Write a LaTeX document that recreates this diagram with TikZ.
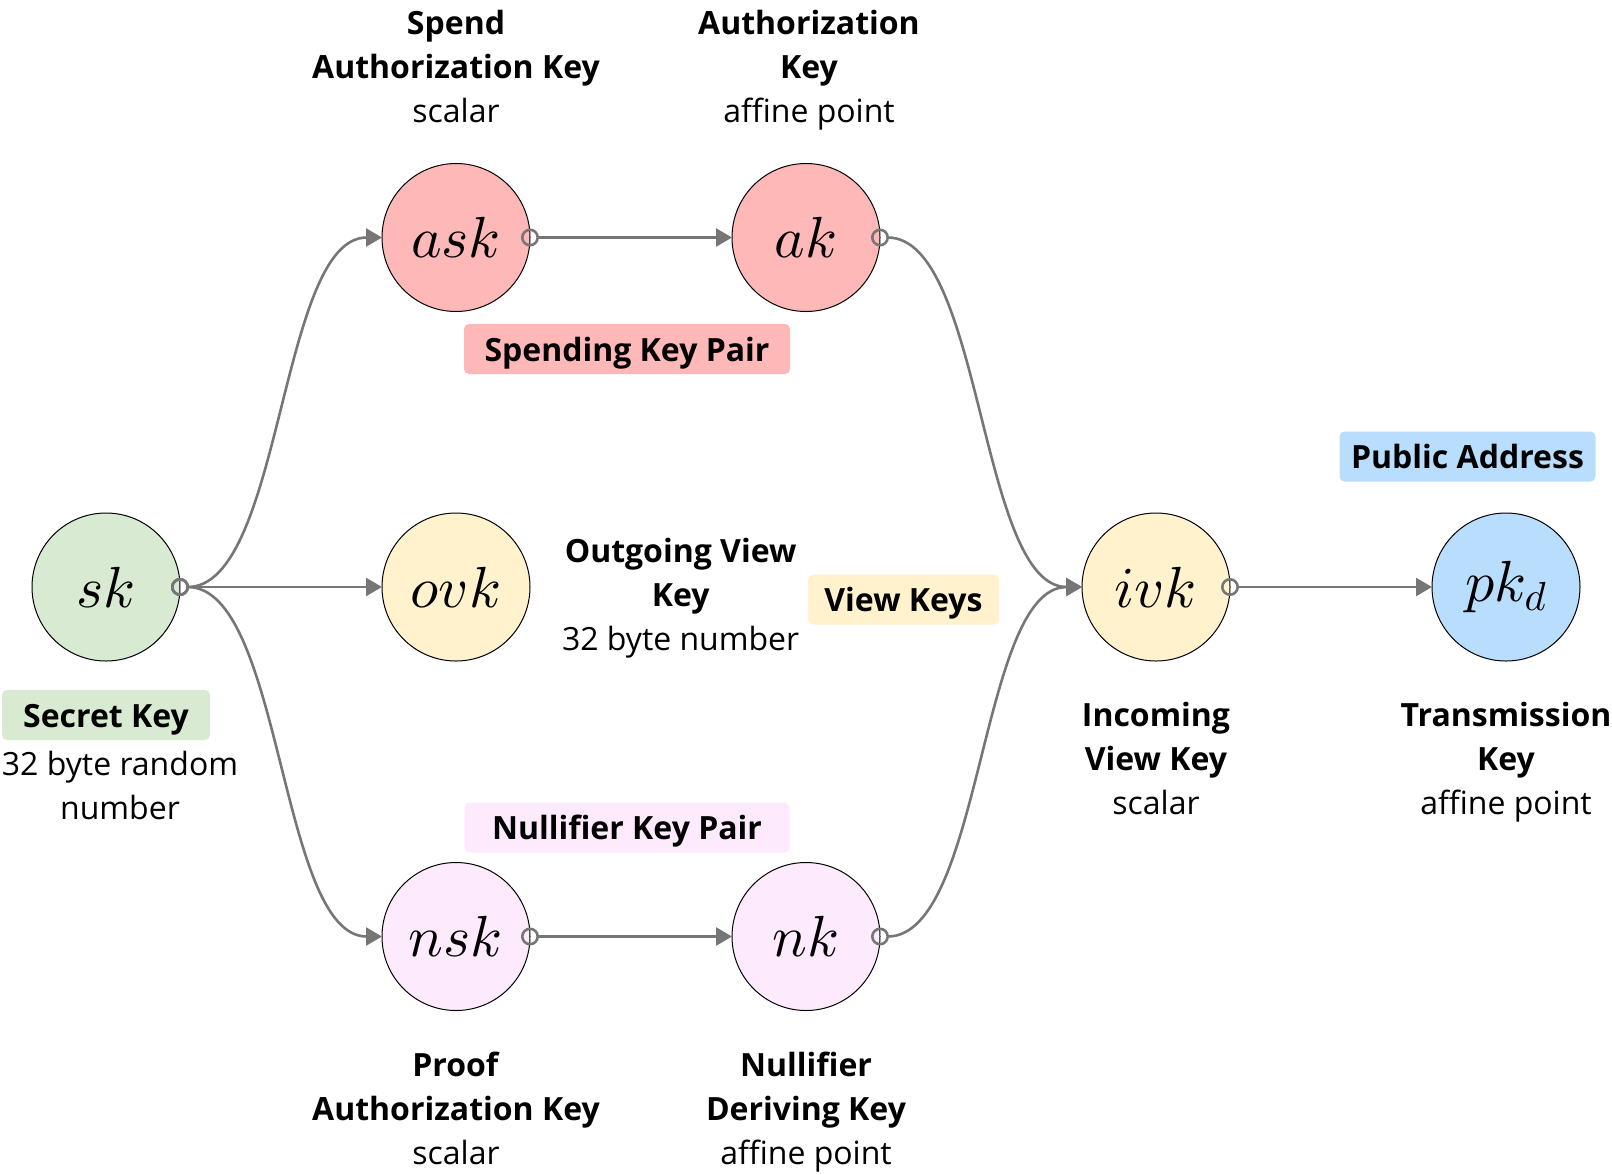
\RequirePackage{fix-cm}
\documentclass[tikz,border=0pt]{standalone}
\usepackage{fontspec}
\setmainfont{Open Sans}
\usetikzlibrary{arrows.meta,positioning}
\DeclareFontShape{OML}{cmm}{m}{it}{<->cmmi10}{}

\definecolor{skgreen}{HTML}{D9EAD3}
\definecolor{spendpink}{HTML}{FFB8B8}
\definecolor{viewyellow}{HTML}{FFF2CC}
\definecolor{nullpink}{HTML}{FDEBFD}
\definecolor{addrblue}{HTML}{B9DDFD}
\definecolor{wire}{HTML}{767676}

\begin{document}
\begin{tikzpicture}[x=0.5pt, y=-0.5pt, node distance=101pt, outer sep=0pt]

\tikzstyle{key}=[circle,draw,line width=0.5pt,minimum size=74pt,inner sep=0pt,font=\fontsize{29}{32}\selectfont]
\tikzstyle{tag}=[rectangle,rounded corners=2.5pt,minimum height=25pt,inner sep=0pt,text height=12pt,text depth=0pt,font=\fontsize{16}{22}\selectfont\bfseries]
\tikzstyle{desc}=[align=center,inner sep=0pt,font=\fontsize{16}{22}\selectfont,execute at begin node=\strut,execute at end node=\strut]
\tikzstyle{link}=[draw=wire,line width=1.3pt,{Circle[open,length=9pt]}-{Triangle[length=8pt,width=9pt]},shorten <=-4.5pt]

\useasboundingbox (0,0) rectangle (1612,1174);

\node[key,fill=skgreen] (sk) at (106,587) {$sk$};
\node[key,fill=viewyellow,right=of sk] (ovk) {$ovk$};
\node[key,fill=spendpink,above=100.75pt of ovk] (ask) {$ask$};
\node[key,fill=nullpink,below=100.75pt of ovk] (nsk) {$nsk$};
\node[key,fill=spendpink,right=of ask] (ak) {$ak$};
\node[key,fill=nullpink,right=of nsk] (nk) {$nk$};
\node[key,fill=viewyellow,right=276pt of ovk] (ivk) {$ivk$};
\node[key,fill=addrblue,right=of ivk] (pkd) {$pk_d$};

\node[desc,above=14pt of ask] (asklbl) {\textbf{Spend}\\\textbf{Authorization Key}\\scalar};
\node[desc,above=14pt of ak,xshift=1.5pt] (aklbl) {\textbf{Authorization}\\\textbf{Key}\\affine point};
\node[desc,right=16pt of ovk,yshift=-7pt] (ovklbl) {\textbf{Outgoing View}\\\textbf{Key}\\32 byte number};
\node[desc,below=20.5pt of ivk] (ivklbl) {\textbf{Incoming}\\\textbf{View Key}\\scalar};
\node[desc,below=20.5pt of pkd] (pkdlbl) {\textbf{Transmission}\\\textbf{Key}\\affine point};
\node[desc,below=20.5pt of nsk] (nsklbl) {\textbf{Proof}\\\textbf{Authorization Key}\\scalar};
\node[desc,below=20.5pt of nk] (nklbl) {\textbf{Nullifier}\\\textbf{Deriving Key}\\affine point};

\node[tag,fill=skgreen,minimum width=104pt,below=14.5pt of sk] (sktag) {Secret Key};
\node[desc,below=5.5pt of sktag,xshift=7pt] (sklbl) {32 byte random\\number};
\node[tag,fill=spendpink,minimum width=163pt] (spendtag) at (627,349) {Spending Key Pair};
\node[tag,fill=nullpink,minimum width=162.5pt] (nulltag) at (627,827.5) {Nullifier Key Pair};
\node[tag,fill=viewyellow,minimum width=95.5pt] (viewtag) at (903.5,599.5) {View Keys};
\node[tag,fill=addrblue,minimum width=128pt] (addrtag) at (1467.5,456.5) {Public Address};

\draw[link] (sk.east) to[out=0,in=180,looseness=0.65] (ask.west);
\draw[link] (sk.east) -- (ovk.west);
\draw[link] (sk.east) to[out=0,in=180,looseness=0.65] (nsk.west);
\draw[link] (ask.east) -- (ak.west);
\draw[link] (nsk.east) -- (nk.west);
\draw[link] (ak.east) to[out=0,in=180,looseness=0.65] (ivk.west);
\draw[link] (nk.east) to[out=0,in=180,looseness=0.65] (ivk.west);
\draw[link] (ivk.east) -- (pkd.west);
\end{tikzpicture}
\end{document}
